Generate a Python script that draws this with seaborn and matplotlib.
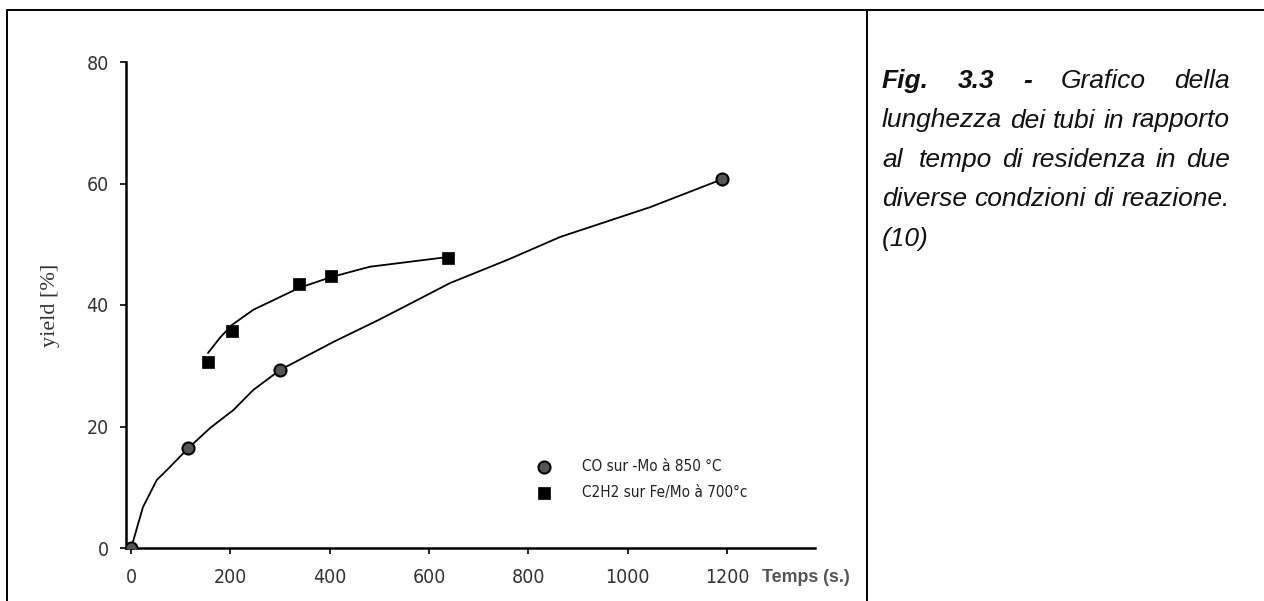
import numpy as np
import pandas as pd
import seaborn as sns
import matplotlib.pyplot as plt
from matplotlib.lines import Line2D

sns.set_style('white')
plt.rcParams['font.family'] = ['Liberation Sans', 'DejaVu Sans']

# measured points
co_time = [0, 115, 300, 1190]
co_yield = [0, 16.4, 29.3, 60.7]
c2h2_time = [155, 203, 338, 403, 638]
c2h2_yield = [30.6, 35.7, 43.5, 44.8, 47.7]

# hand drawn trend curves
co_curve_time = [0, 5, 24, 52, 72, 115, 160, 206, 246, 300, 407, 500, 576, 642, 760, 864, 1045, 1190]
co_curve_yield = [0, 1.3, 6.7, 11.2, 12.8, 16.4, 19.8, 22.7, 26, 29.3, 33.9, 37.6, 40.8, 43.6, 47.5, 51.2, 56.1, 60.7]
c2h2_curve_time = [155, 179, 203, 246, 338, 403, 481, 638]
c2h2_curve_yield = [32.1, 34.6, 36.7, 39.2, 42.8, 44.6, 46.3, 47.9]

x_ticks = [0, 200, 400, 600, 800, 1000, 1200]
y_ticks = [0, 20, 40, 60, 80]
labels = ['CO sur -Mo à 850 °C', 'C2H2 sur Fe/Mo à 700°c']

W, H = 1264, 601
def fx(x):
    return x / W
def fy(y):
    return 1 - y / H

fig = plt.figure(figsize=(W / 100, H / 100), dpi=100)
ax = fig.add_axes([fx(126), fy(548), (815 - 126) / W, (548 - 62) / H])

co_curve = pd.DataFrame({'t': co_curve_time, 'y': co_curve_yield})
c2h2_curve = pd.DataFrame({'t': c2h2_curve_time, 'y': c2h2_curve_yield})
sns.lineplot(data=co_curve, x='t', y='y', ax=ax, color='black', lw=1.3,
             estimator=None, sort=False)
sns.lineplot(data=c2h2_curve, x='t', y='y', ax=ax, color='black', lw=1.3,
             estimator=None, sort=False)

sns.scatterplot(x=co_time, y=co_yield, ax=ax, marker='o', s=75, color='#555555',
                edgecolor='black', linewidth=1.5, label=labels[0], zorder=5)
sns.scatterplot(x=c2h2_time, y=c2h2_yield, ax=ax, marker='s', s=80, color='black',
                edgecolor='black', linewidth=0.5, label=labels[1], zorder=5)

ax.set_xlim(-10, 1377)
ax.set_ylim(0, 80)
ax.set_xticks(x_ticks)
ax.set_yticks(y_ticks)
ax.set_xlabel('')
ax.set_ylabel('yield [%]', family='Liberation Serif', fontsize=16, color='#333333')
ax.yaxis.set_label_coords((60 - 126) / 689, 0.5)

sns.despine(ax=ax)
for side in ['left', 'bottom']:
    ax.spines[side].set_linewidth(1.8)
    ax.spines[side].set_color('black')
ax.tick_params(axis='both', direction='out', length=4, width=1.2, colors='black',
               labelcolor='#333333', labelsize=14)
ax.tick_params(axis='y', pad=8.5, left=True)
ax.tick_params(axis='x', pad=10.5, bottom=True)
for lab in ax.get_xticklabels() + ax.get_yticklabels():
    lab.set_family(['DejaVu Sans', 'Liberation Sans'])
    lab.set_fontstretch('condensed')

handles, _ = ax.get_legend_handles_labels()
leg = ax.legend(handles, labels, loc='upper left', bbox_to_anchor=(fx(536), fy(459)),
                bbox_transform=fig.transFigure, frameon=False, handlelength=1.0,
                handletextpad=2.0, labelspacing=0.75, borderpad=0, borderaxespad=0,
                prop={'family': 'DejaVu Sans', 'stretch': 'condensed', 'size': 11})
for t in leg.get_texts():
    t.set_color('#222222')

fig.text(fx(762), fy(578), 'Temps (s.)', fontsize=12.8, weight='bold', color='#555555',
         ha='left', va='center')

# table frame around chart and caption
for xs, ys in [([fx(7), 1], [fy(9.5), fy(9.5)]),
               ([fx(7), fx(7)], [fy(9.5), 0]),
               ([fx(867), fx(867)], [fy(9.5), 0])]:
    fig.add_artist(Line2D(xs, ys, color='black', lw=1.4))

# justified caption
caption = [
    ([('Fig.', 'bold'), ('3.3', 'bold'), ('-', 'bold'), ('Grafico', 'normal'), ('della', 'normal')], True, None),
    ([('lunghezza', 'normal'), ('dei', 'normal'), ('tubi', 'normal'), ('in', 'normal'), ('rapporto', 'normal')], True, None),
    ([('al', 'normal'), ('tempo', 'normal'), ('di', 'normal'), ('residenza', 'normal'), ('in', 'normal'), ('due', 'normal')], True, [1.7, 1, 1, 1, 1]),
    ([('diverse', 'normal'), ('condzioni', 'normal'), ('di', 'normal'), ('reazione.', 'normal')], True, None),
    ([('(10)', 'normal')], False, None),
]
fig.canvas.draw()
r = fig.canvas.get_renderer()
left, right = 882, 1230
for i, (words, justify, weights) in enumerate(caption):
    base = 88 + 39.5 * i
    texts = [fig.text(0, fy(base), w, fontsize=19, style='italic', weight=wt,
                      va='baseline', ha='left', color='#111111') for w, wt in words]
    widths = [t.get_window_extent(r).width for t in texts]
    n = len(texts) - 1
    if weights is None:
        weights = [1] * n
    unit = (right - left - sum(widths)) / sum(weights) if (justify and n > 0) else 0
    x = left
    for k, (t, w) in enumerate(zip(texts, widths)):
        t.set_x(fx(x))
        if k < n:
            x += w + unit * weights[k]

fig.savefig('out.png', dpi=100)
